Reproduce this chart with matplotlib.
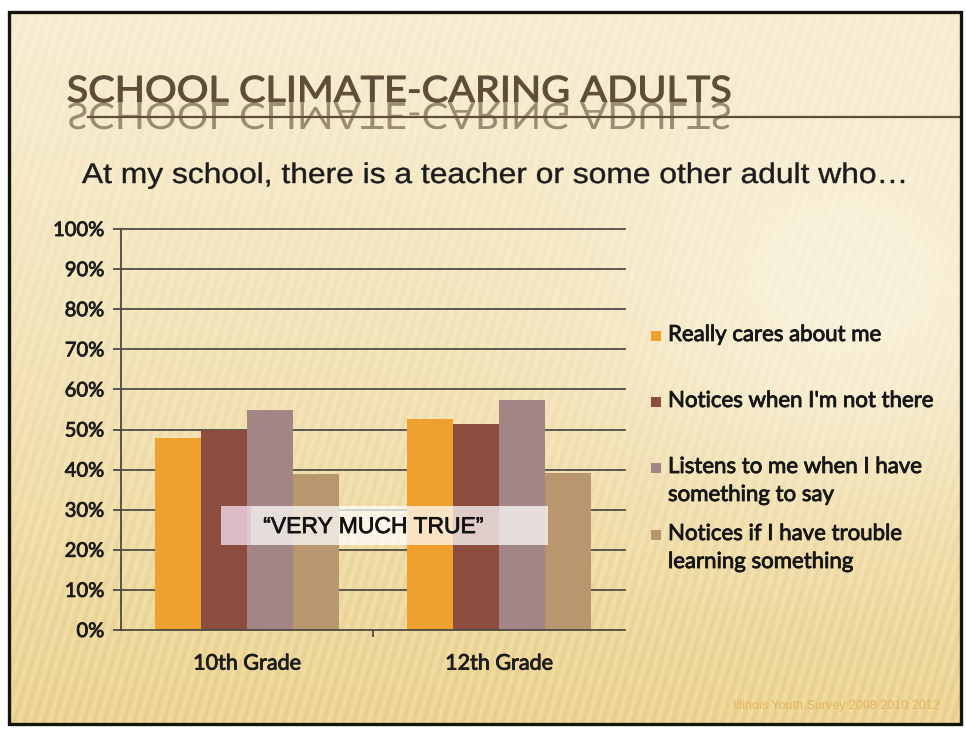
import numpy as np
import matplotlib
matplotlib.use("Agg")
import matplotlib.pyplot as plt
import matplotlib.patheffects as pe
from matplotlib.patches import Rectangle, PathPatch
from matplotlib.textpath import TextPath
from matplotlib.font_manager import FontProperties
from matplotlib.transforms import Affine2D

# data (percent answering "very much true")
grades = ["10th Grade", "12th Grade"]
series = ["Really cares about me",
          "Notices when I'm not there",
          "Listens to me when I have\nsomething to say",
          "Notices if I have trouble\nlearning something"]
values = [[48, 52.5],
          [50, 51.3],
          [54.8, 57.4],
          [38.8, 39.1]]
colors = ["#eea12f", "#8c4d3e", "#a38585", "#b8976f"]
yticks = list(range(0, 101, 10))

title = "SCHOOL CLIMATE-CARING ADULTS"
subtitle = "At my school, there is a teacher or some other adult who\u2026"
footer = "Illinois Youth Survey 2008 2010 2012"

W, H = 966, 729
fig = plt.figure(figsize=(W / 100, H / 100), dpi=100, facecolor="white")

# background axes in pixel coordinates (y down)
bg = fig.add_axes([0, 0, 1, 1])
bg.set_xlim(0, W)
bg.set_ylim(H, 0)
bg.axis("off")

# slide background: cream to yellow gradient with faint streaks
x0, x1, y0, y1 = 9, 961, 12, 724
xx, yy = np.meshgrid(np.linspace(0, 1, 476), np.linspace(0, 1, 356))
c1 = np.array([248, 240, 216]) / 255
c2 = np.array([236, 212, 148]) / 255
t = np.clip(0.1 + 0.9 * yy ** 1.2, 0, 1)
glow = np.exp(-(((xx - 0.88) / 0.25) ** 2 + ((yy - 0.45) / 0.25) ** 2))
t = np.clip(t - 0.45 * glow, 0, 1)
img = c1[None, None, :] * (1 - t[..., None]) + c2[None, None, :] * t[..., None]
streak = 0.02 * np.sin(2 * np.pi * (xx * 476 + 0.3 * yy * 356) / 5.0) * (0.3 + t)
img = np.clip(img + streak[..., None], 0, 1)
bg.imshow(img, extent=[x0, x1, y1, y0], aspect="auto", zorder=0, interpolation="bilinear")
bg.add_patch(Rectangle((x0, y0), x1 - x0, y1 - y0, fill=False, ec="#151510", lw=2.4, zorder=5))


def stretched(s, family, left, base, width, height, mirror=False):
    # text path scaled to a given width and cap height (slide photo is stretched sideways)
    tp = TextPath((0, 0), s, size=100, prop=FontProperties(family=family))
    cap = TextPath((0, 0), "H", size=100, prop=FontProperties(family=family)).get_extents().height
    ext = tp.get_extents()
    sx = width / ext.width
    sy = height / cap
    tr = Affine2D().translate(-ext.x0, 0).scale(sx, sy if mirror else -sy).translate(left, base)
    return tp, tr + bg.transData


tcol = "#5e4d38"
tp, tr = stretched(title, "Lato", 68, 102, 662, 26)
bg.add_patch(PathPatch(tp, transform=tr, fc=tcol, ec=tcol, lw=0.8, zorder=3))
tp, tr = stretched(title, "Lato", 68, 103, 662, 26, mirror=True)
refl = PathPatch(tp, transform=tr, fc=tcol, ec="none", alpha=0.6, zorder=3)
refl.set_clip_path(Rectangle((60, 103), 700, 13, transform=bg.transData))
bg.add_patch(refl)
bg.plot([88, x1], [117, 117], color=tcol, lw=1.6, zorder=3)

tp, tr = stretched(subtitle, "Liberation Sans", 82, 183, 822, 19.5)
bg.add_patch(PathPatch(tp, transform=tr, fc="#1c1c1c", ec="#1c1c1c", lw=0.3, zorder=3))

bg.text(940, 706, footer, family="Liberation Sans", fontsize=9, color="#e2b65c",
        va="center", ha="right", zorder=3)

bold = [pe.withStroke(linewidth=0.6, foreground="#1c1c1c")]

# chart
ax = fig.add_axes([121 / W, (H - 630) / H, 504 / W, 401 / H])
ax.set_facecolor("none")
n = len(series)
bw = 46 / 252
xpos = np.arange(len(grades))
for i, (lab, vals, col) in enumerate(zip(series, values, colors)):
    ax.bar(xpos + (i - (n - 1) / 2) * bw, vals, width=bw, color=col, zorder=2, label=lab)

ax.set_xlim(-0.5, len(grades) - 0.5)
ax.set_ylim(0, 100)
ax.set_yticks(yticks)
ax.set_yticklabels([f"{v}%" for v in yticks], family="Lato", fontsize=14.5, color="#1c1c1c")
ax.set_xticks(xpos)
ax.set_xticklabels(grades, family="Lato", fontsize=15.5, color="#1c1c1c")
for lbl in ax.get_xticklabels() + ax.get_yticklabels():
    lbl.set_path_effects(bold)
ax.tick_params(axis="x", length=0, pad=17)
ax.tick_params(axis="y", length=6, width=1.3, color="#4a4a42", pad=6, direction="out")
ax.set_xticks([0.5], minor=True)
ax.tick_params(axis="x", which="minor", length=5, width=1.3, color="#4a4a42")
for v in yticks[1:]:
    ax.axhline(v, color="#4e4e46", lw=1.3, zorder=1, clip_on=False)
for s in ["top", "right"]:
    ax.spines[s].set_visible(False)
ax.spines["left"].set_color("#4a4a42")
ax.spines["bottom"].set_color("#4a4a42")
ax.spines["left"].set_linewidth(1.3)
ax.spines["bottom"].set_linewidth(1.3)

# "very much true" banner over the bars
ax.add_patch(Rectangle((-0.103, 21.2), 1.297, 9.7, fc="white", ec="none", alpha=0.72, zorder=4))
ax.add_patch(Rectangle((-0.103, 21.2), 0.12, 9.7, fc="#d9a0c0", ec="none", alpha=0.35, zorder=4))
ax.text(0.5, 25.8, "\u201cVERY MUCH TRUE\u201d", family="Liberation Sans", fontsize=16.5,
        color="#111111", ha="center", va="center", zorder=5,
        path_effects=[pe.withStroke(linewidth=0.5, foreground="#111111")])

# legend drawn by hand to keep the slide's uneven spacing
leg_y = [336, 402, 468, 535]
for lab, col, ly in zip(series, colors, leg_y):
    bg.add_patch(Rectangle((651, ly - 5), 10, 10, fc=col, ec="none", zorder=3))
    bg.text(668, ly - 11, lab, family="Lato", fontsize=16, color="#161616",
            va="top", ha="left", linespacing=1.5, zorder=3,
            path_effects=[pe.withStroke(linewidth=0.6, foreground="#161616")])

fig.savefig("out.png", dpi=100, facecolor="white")
